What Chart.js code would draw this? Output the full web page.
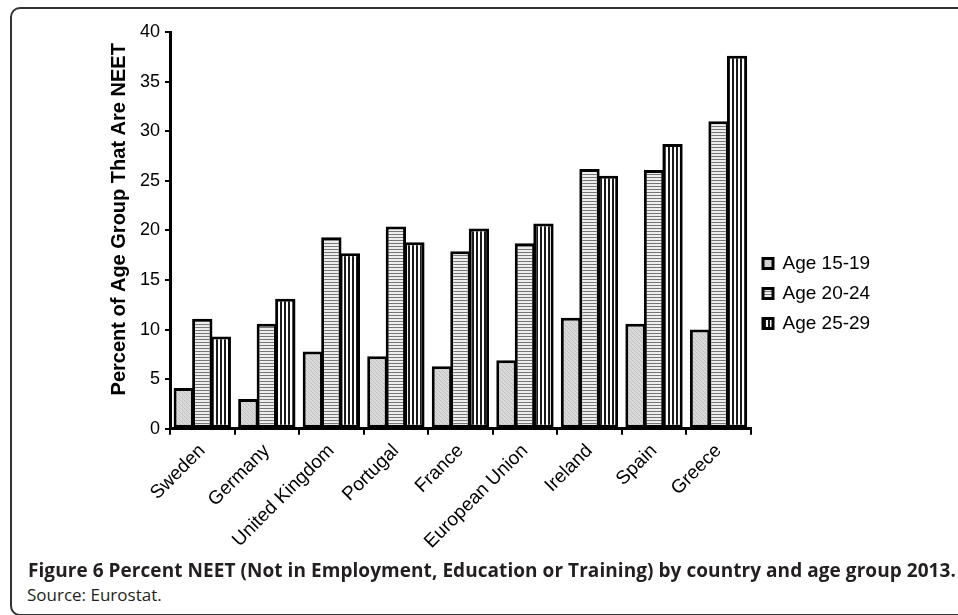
<!DOCTYPE html>
<html>
<head>
<meta charset="utf-8">
<script src="https://cdn.jsdelivr.net/npm/chart.js@4.4.0/dist/chart.umd.min.js"></script>
<style>
  html, body { margin: 0; padding: 0; background: #fff; overflow: hidden; }
  #page { position: relative; width: 958px; height: 615px; }
  #frame {
    position: absolute; left: 10px; top: 7px; width: 1000px; height: 605px;
    border: 2px solid #333; border-radius: 10px 0 0 10px;
  }
  #chart { position: absolute; left: 0; top: 0; }
  .caption {
    position: absolute; left: 28px; top: 560px; white-space: nowrap;
    font-family: 'Open Sans', sans-serif; font-weight: bold; font-size: 19px;
    letter-spacing: 0.06px; line-height: 20px; color: #231f20;
  }
  .source {
    position: absolute; left: 27px; top: 585px; white-space: nowrap;
    font-family: 'Open Sans', sans-serif; font-size: 17px;
    line-height: 20px; color: #231f20;
  }
</style>
</head>
<body>
<div id="page">
  <div id="frame"></div>
  <canvas id="chart" width="958" height="565"></canvas>
  <div class="caption">Figure 6 Percent NEET (Not in Employment, Education or Training) by country and age group 2013.</div>
  <div class="source">Source: Eurostat.</div>
</div>
<script>
var countries = ['Sweden', 'Germany', 'United Kingdom', 'Portugal', 'France',
                 'European Union', 'Ireland', 'Spain', 'Greece'];
var age1519 = [4.1, 3.0, 7.8, 7.3, 6.3, 6.9, 11.2, 10.6, 10.0];
var age2024 = [11.1, 10.6, 19.3, 20.4, 17.9, 18.7, 26.2, 26.1, 31.0];
var age2529 = [9.3, 13.1, 17.7, 18.8, 20.2, 20.7, 25.5, 28.7, 37.6];
var seriesNames = ['Age 15-19', 'Age 20-24', 'Age 25-29'];
var yTitle = 'Percent of Age Group That Are NEET';

// little hatch fills like the old excel patterns
function makePattern(kind){
    var c = document.createElement('canvas');
    var ctx = c.getContext('2d');
    if(kind == 'diag'){
        c.width = 4; c.height = 4;
        ctx.fillStyle = '#d9d9d9';
        ctx.fillRect(0, 0, 4, 4);
        ctx.fillStyle = '#c2c2c2';
        for(var i = 0; i < 4; i++)
            ctx.fillRect(i, i, 1, 1);
    } else if(kind == 'horiz'){
        c.width = 3; c.height = 3;
        ctx.fillStyle = '#eeeeee';
        ctx.fillRect(0, 0, 3, 3);
        ctx.fillStyle = '#777777';
        ctx.fillRect(0, 0, 3, 1);
    } else {
        c.width = 4; c.height = 4;
        ctx.fillStyle = '#ffffff';
        ctx.fillRect(0, 0, 4, 4);
        ctx.fillStyle = '#1a1a1a';
        ctx.fillRect(0, 0, 2, 4);
    }
    return ctx.createPattern(c, 'repeat');
}

// put the legend where the original has it
var placeLegend = {
    id: 'placeLegend',
    afterLayout: function(chart){
        var lg = chart.legend;
        var dx = 752 - lg.left;
        var dy = 243 - lg.top;
        lg.left += dx; lg.right += dx;
        lg.top += dy; lg.bottom += dy;
    }
};

Chart.defaults.font.family = "'Liberation Sans', Arial, sans-serif";
Chart.defaults.color = '#000';

function barSet(label, values, fill){
    return {
        label: label,
        data: values,
        backgroundColor: fill,
        borderColor: '#000',
        borderWidth: 3,
        borderSkipped: false,
        barPercentage: 1.1,
        categoryPercentage: 0.86
    };
}

var chart = new Chart(document.getElementById('chart'), {
    type: 'bar',
    data: {
        labels: countries,
        datasets: [
            barSet(seriesNames[0], age1519, makePattern('diag')),
            barSet(seriesNames[1], age2024, makePattern('horiz')),
            barSet(seriesNames[2], age2529, makePattern('vert'))
        ]
    },
    options: {
        responsive: false,
        animation: false,
        devicePixelRatio: 1,
        layout: { padding: { left: 103, top: 32, right: 79, bottom: 7 } },
        plugins: {
            tooltip: { enabled: false },
            legend: {
                position: 'right',
                align: 'start',
                labels: {
                    boxWidth: 10, boxHeight: 10, padding: 11,
                    color: '#000', font: { size: 19 }
                }
            }
        },
        scales: {
            x: {
                ticks: { color: '#000', font: { size: 19 }, maxRotation: 45, minRotation: 45, autoSkip: false, padding: 5 },
                grid: { drawOnChartArea: false, tickLength: 6, color: '#000', lineWidth: 2, offset: true },
                border: { color: '#000', width: 3 }
            },
            y: {
                min: 0, max: 40,
                ticks: { stepSize: 5, color: '#000', font: { size: 18 }, padding: 5 },
                grid: { drawOnChartArea: false, tickLength: 5, color: '#000', lineWidth: 2 },
                border: { color: '#000', width: 3 },
                title: {
                    // leading blanks nudge the title up a little, as in the original
                    display: true, text: '    ' + yTitle, color: '#000',
                    font: { size: 20, weight: 'bold' }, padding: { top: 4, bottom: 4 }
                }
            }
        }
    },
    plugins: [placeLegend]
});
</script>
</body>
</html>
